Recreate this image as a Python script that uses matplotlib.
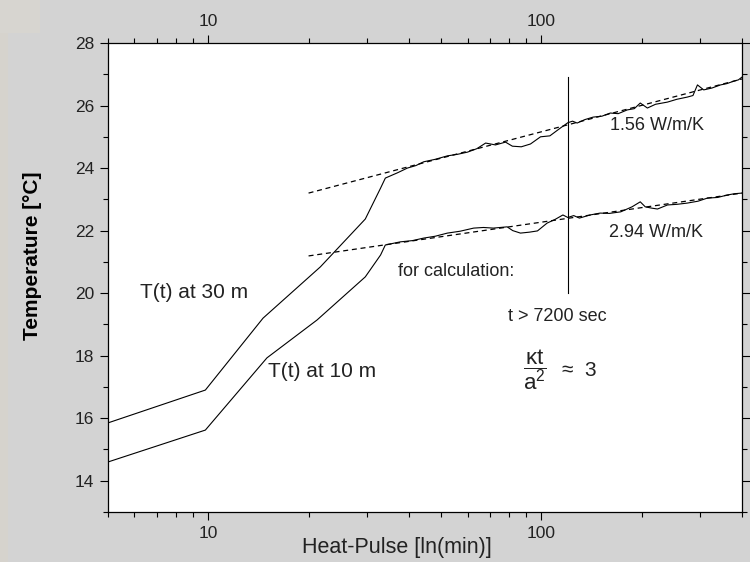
import matplotlib
matplotlib.use('Agg')
import matplotlib.pyplot as plt
from matplotlib.ticker import FixedLocator, LogLocator, NullFormatter, FuncFormatter, MultipleLocator
from matplotlib.patches import Rectangle

plt.rcParams['font.family'] = ['Liberation Sans', 'DejaVu Sans']
plt.rcParams['mathtext.fontset'] = 'custom'
plt.rcParams['mathtext.rm'] = 'Liberation Sans'
plt.rcParams['mathtext.it'] = 'Liberation Sans'

# T(t) at 30 m  (time in min, temperature in degC)
t30 = [5, 9.8, 14.6, 21.7, 29.6, 32.9, 34, 37, 39.6, 42, 44.3, 48, 52.2, 56, 60, 64, 68, 72.8,
       78, 81.8, 87, 92.7, 99.4, 106, 114, 120, 124, 128, 135, 143, 152, 161, 170, 181, 190,
       198, 208, 220, 239, 255, 274, 285, 294, 307, 325, 345, 360, 378, 390, 400]
T30 = [15.85, 16.9, 19.2, 20.84, 22.37, 23.36, 23.68, 23.85, 24.0, 24.08, 24.2, 24.28, 24.39,
       24.44, 24.51, 24.62, 24.8, 24.74, 24.83, 24.7, 24.68, 24.77, 25.0, 25.03, 25.28, 25.45,
       25.5, 25.44, 25.55, 25.63, 25.66, 25.76, 25.74, 25.86, 25.9, 26.08, 25.92, 26.04, 26.11,
       26.2, 26.27, 26.32, 26.66, 26.5, 26.56, 26.66, 26.7, 26.78, 26.82, 26.91]

# T(t) at 10 m
t10 = [5, 9.8, 15.0, 21.2, 29.6, 32.9, 34, 37.7, 41, 44.3, 48, 52.2, 57, 62.6, 67, 71.7, 78.9,
       82, 86.5, 92, 97.3, 104, 110, 116, 120, 125, 130, 140, 150, 160, 173, 187, 198, 205,
       214, 223, 239, 255, 274, 295, 315, 338, 362, 380, 400]
T10 = [14.6, 15.62, 17.93, 19.14, 20.52, 21.22, 21.54, 21.64, 21.68, 21.76, 21.82, 21.92, 21.98,
       22.08, 22.1, 22.08, 22.12, 22.0, 21.92, 21.95, 21.99, 22.24, 22.36, 22.5, 22.42, 22.48,
       22.4, 22.5, 22.56, 22.55, 22.6, 22.76, 22.92, 22.76, 22.72, 22.69, 22.82, 22.84, 22.88,
       22.94, 23.04, 23.06, 23.14, 23.18, 23.2]

# fitted lines (dashed)
fit_t = [20, 400]
fit30 = [23.2, 26.85]
fit10 = [21.19, 23.2]

# t > 7200 sec marker
calc_t = [120, 120]
calc_T = [20.0, 26.9]

fig = plt.figure(figsize=(7.5, 5.62), dpi=100)
fig.patch.set_facecolor('#d3d3d3')
fig.patches.append(Rectangle((0, 0), 8 / 750, 1, transform=fig.transFigure,
                             facecolor='#d6d3cd', edgecolor='none', zorder=0))
fig.patches.append(Rectangle((0, 1 - 33 / 562), 40 / 750, 33 / 562, transform=fig.transFigure,
                             facecolor='#d7d5d0', edgecolor='none', zorder=0))

ax = fig.add_axes([108 / 750, 1 - 512 / 562, 634 / 750, 469 / 562])
ax.set_facecolor('white')

ax.plot(t30, T30, color='black', lw=0.8)
ax.plot(t10, T10, color='black', lw=0.8)
ax.plot(fit_t, fit30, color='black', lw=0.9, linestyle=(0, (4, 3)))
ax.plot(fit_t, fit10, color='black', lw=0.9, linestyle=(0, (4, 3)))
ax.plot(calc_t, calc_T, color='black', lw=0.8)

ax.set_xscale('log')
ax.set_xlim(5, 400)
ax.set_ylim(13, 28)

ax.xaxis.set_major_locator(FixedLocator([10, 100]))
ax.xaxis.set_major_formatter(FuncFormatter(lambda v, p: '%d' % v))
ax.xaxis.set_minor_locator(LogLocator(base=10, subs=[2, 3, 4, 5, 6, 7, 8, 9], numticks=20))
ax.xaxis.set_minor_formatter(NullFormatter())
ax.yaxis.set_major_locator(MultipleLocator(2))
ax.yaxis.set_minor_locator(MultipleLocator(1))
ax.set_yticks([14, 16, 18, 20, 22, 24, 26, 28])

ax.tick_params(which='both', direction='out', top=True, right=True, labeltop=True,
               width=0.8, colors='black', labelcolor='#222222', labelsize=12.5)
ax.tick_params(which='major', length=6, pad=4)
ax.tick_params(which='minor', length=3.8)
for s in ax.spines.values():
    s.set_linewidth(0.9)

tc = '#222222'
ax.text(0.0505, 0.467, 'T(t) at 30 m', transform=ax.transAxes, fontsize=15, color=tc, va='center')
ax.text(0.252, 0.299, 'T(t) at 10 m', transform=ax.transAxes, fontsize=15, color=tc, va='center')
ax.text(0.457, 0.512, 'for calculation:', transform=ax.transAxes, fontsize=13, color=tc, va='center')
ax.text(0.631, 0.416, 't > 7200 sec', transform=ax.transAxes, fontsize=13, color=tc, va='center')
ax.text(0.792, 0.825, '1.56 W/m/K', transform=ax.transAxes, fontsize=13, color=tc, va='center')
ax.text(0.79, 0.597, '2.94 W/m/K', transform=ax.transAxes, fontsize=13, color=tc, va='center')
ax.text((535 - 108) / 634, (512 - 370) / 469, r'$\dfrac{\mathrm{\kappa t}}{\mathrm{a}^2}$',
        transform=ax.transAxes, fontsize=16, color=tc, ha='center', va='center')
ax.text((562 - 108) / 634, (512 - 371) / 469, '≈  3',
        transform=ax.transAxes, fontsize=15, color=tc, va='center')

fig.text(33 / 750, 1 - 256 / 562, 'Temperature [°C]', rotation=90, fontsize=15,
         fontweight='bold', color='black', ha='center', va='center')
fig.text(397 / 750, 1 - 548 / 562, 'Heat-Pulse [ln(min)]', fontsize=15.5,
         color='#222222', ha='center', va='center')

fig.savefig('out.png', dpi=100, facecolor=fig.get_facecolor())
